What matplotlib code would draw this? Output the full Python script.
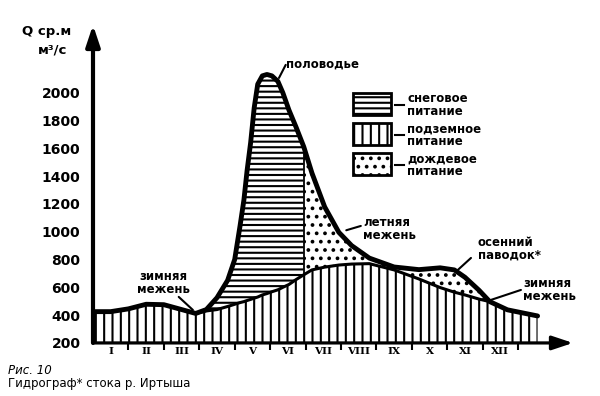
import matplotlib.pyplot as plt
from matplotlib.patches import Rectangle
from matplotlib.lines import Line2D
import numpy as np

plt.rcParams['font.family'] = ['DejaVu Sans']
plt.rcParams['hatch.linewidth'] = 1.5

# months since 1 January (position along the time axis)
t = np.array([0.05, 0.5, 1.0, 1.5, 2.0, 2.5, 2.9, 3.2, 3.5, 3.8, 4.0, 4.15, 4.26,
              4.35, 4.45, 4.55, 4.65, 4.78, 4.91, 5.05, 5.22, 5.36, 5.53, 5.73, 5.95,
              6.18, 6.54, 6.94, 7.3, 7.8, 8.5, 9.2, 9.8, 10.2, 10.5, 10.9, 11.2,
              11.7, 12.55])
# total discharge, m3/s
total = np.array([425, 425, 445, 478, 475, 440, 412, 440, 525, 650, 800, 1040, 1228,
                  1440, 1640, 1890, 2060, 2120, 2130, 2120, 2080, 1998, 1875, 1753, 1610,
                  1422, 1178, 995, 900, 810, 746, 727, 740, 725, 672, 578, 497,
                  438, 394])
# groundwater part
ground = np.array([425, 425, 445, 478, 475, 440, 412, 430, 440, 462, 478, 490, 497,
                   505, 513, 522, 530, 545, 555, 568, 582, 600, 620, 655, 690,
                   725, 745, 760, 767, 770, 725, 660, 598, 565, 545, 515, 497,
                   438, 394])
snow_start, snow_end = 2.9, 5.95

months = ['I', 'II', 'III', 'IV', 'V', 'VI', 'VII', 'VIII', 'IX', 'X', 'XI', 'XII']
yticks = [200, 400, 600, 800, 1000, 1200, 1400, 1600, 1800, 2000]

fig = plt.figure(figsize=(6, 3.96), dpi=100)
ax = fig.add_axes([0.155, 0.134, 0.80, 0.803])
ax.set_xlim(0, 13.55)
ax.set_ylim(200, 2486)

ax.fill_between(t, 200, ground, facecolor='white', edgecolor='black', hatch='||', linewidth=0)
snow = (t >= snow_start) & (t <= snow_end)
rain = t >= snow_end
ax.fill_between(t, ground, total, where=snow, facecolor='white', edgecolor='black', hatch='---', linewidth=0)
ax.fill_between(t, ground, total, where=rain, facecolor='white', edgecolor='black', hatch='..', linewidth=0)
i = np.where(t == snow_end)[0][0]
ax.vlines(t[i], ground[i], total[i], color='black', lw=1.3)
ax.plot(t, ground, color='black', lw=2.2, solid_capstyle='round')
ax.plot(t, total, color='black', lw=3.5, solid_capstyle='round', solid_joinstyle='round')

for s in ax.spines.values():
    s.set_visible(False)
ax.annotate('', xy=(0, 1), xytext=(0, 0), xycoords='axes fraction',
            arrowprops=dict(arrowstyle='-|>,head_length=0.9,head_width=0.3', lw=3,
                            color='black', shrinkA=0, shrinkB=0, mutation_scale=14))
ax.annotate('', xy=(1, 0), xytext=(0, 0), xycoords='axes fraction',
            arrowprops=dict(arrowstyle='-|>,head_length=0.9,head_width=0.3', lw=2.3,
                            color='black', shrinkA=0, shrinkB=0, mutation_scale=14))

ax.set_yticks(yticks)
ax.set_yticklabels([str(v) for v in yticks], fontsize=10, fontweight='bold')
ax.tick_params(axis='y', length=0, pad=9)
ax.set_xticks(np.arange(1, 13))
ax.set_xticklabels([])
ax.tick_params(axis='x', which='major', length=5, width=1.5, direction='out')
ax.set_xticks(np.arange(12) + 0.5, minor=True)
ax.set_xticklabels(months, minor=True, fontsize=7.5, fontweight='bold', family='DejaVu Serif')
ax.tick_params(axis='x', which='minor', length=0, pad=3)

kw = dict(fontsize=8.5, fontweight='bold', linespacing=0.95, va='center')
line = dict(arrowstyle='-', lw=1.5, shrinkA=0, shrinkB=0)
ax.text(5.44, 2206, 'половодье', **kw)
ax.annotate('', xy=(5.25, 2105), xytext=(5.44, 2199), arrowprops=line)
ax.text(7.62, 1020, 'летняя\nмежень', **kw)
ax.annotate('', xy=(7.15, 1010), xytext=(7.56, 1041), arrowprops=line)
ax.text(10.86, 876, 'осенний\nпаводок*', **kw)
ax.annotate('', xy=(10.30, 725), xytext=(10.67, 811), arrowprops=line)
ax.text(12.14, 581, 'зимняя\nмежень', **kw)
ax.annotate('', xy=(11.23, 509), xytext=(12.08, 581), arrowprops=line)
ax.text(1.99, 631, 'зимняя\nмежень', ha='center', **kw)
ax.annotate('', xy=(2.82, 437), xytext=(2.42, 531), arrowprops=line)


def px(x, y):
    return x / 600, 1 - y / 396


# legend
legend = [('---', 'снеговое\nпитание', 93), ('||', 'подземное\nпитание', 123), ('..', 'дождевое\nпитание', 153)]
for hatch, label, top in legend:
    x0, y0 = px(353, top + 22)
    fig.add_artist(Rectangle((x0, y0), 38 / 600, 22 / 396, transform=fig.transFigure,
                             facecolor='white', edgecolor='black', hatch=hatch, lw=2))
    xa, ya = px(395, top + 12)
    xb, _ = px(404, top + 12)
    fig.add_artist(Line2D([xa, xb], [ya, ya], transform=fig.transFigure, color='black', lw=1.5))
    fig.text(*px(407, top + 12), label, **kw)

fig.text(*px(22, 31), 'Q ср.м', fontsize=9.5, fontweight='bold', va='center')
fig.text(*px(38, 50), 'м³/с', fontsize=9.5, fontweight='bold', va='center')
fig.text(*px(8, 371), 'Рис. 10', fontsize=8.5, style='italic', va='center')
fig.text(*px(8, 384), 'Гидрограф* стока р. Иртыша', fontsize=8.5, va='center')

fig.savefig('out.png', dpi=100)
